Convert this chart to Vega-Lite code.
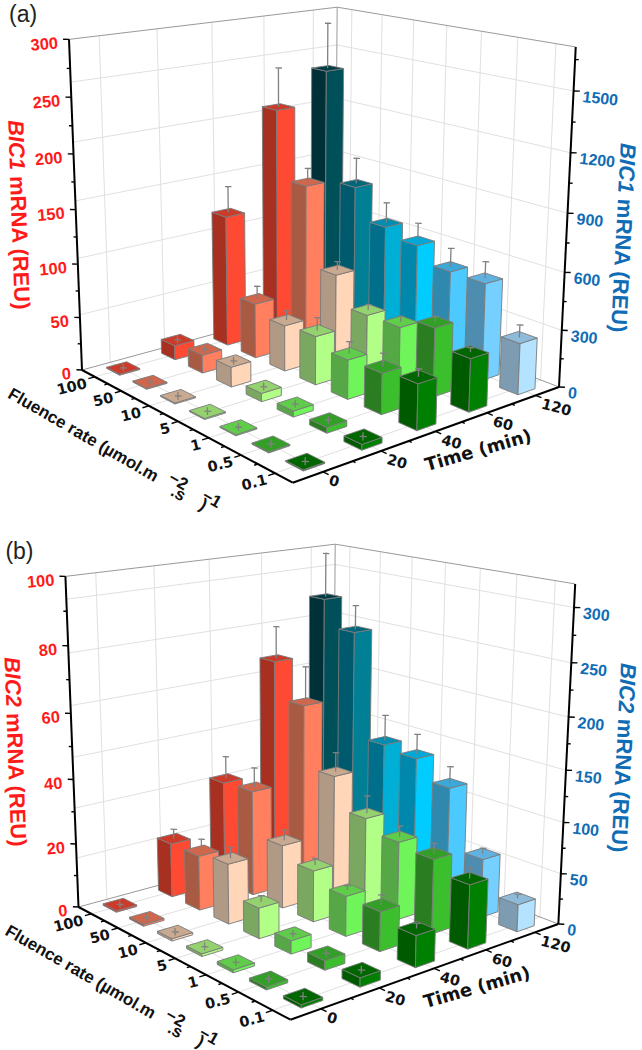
{"$schema":"https://vega.github.io/schema/vega-lite/v6.json","width":642,"height":1050,"padding":0,"autosize":{"type":"none"},"background":"white","config":{"view":{"stroke":null}},
"datasets":{
"lines":[
{"g":"grid","k":"zL","panel":["a"],"v":[300,600,900,1200,1500],"max":1710},
{"g":"grid","k":"zR","panel":["a"],"v":[300,600,900,1200,1500],"max":1710},
{"g":"grid","k":"zL","panel":["b"],"v":[50,100,150,200,250,300],"max":321},
{"g":"grid","k":"zR","panel":["b"],"v":[50,100,150,200,250,300],"max":321},
{"g":"grid","k":"tW","panel":["a","b"],"v":[0.5,1.5,2.5,3.5,4.5],"max":5},
{"g":"grid","k":"tF","panel":["a","b"],"v":[0.5,1.5,2.5,3.5,4.5],"max":5},
{"g":"grid","k":"fW","panel":["a","b"],"v":[0.5,1.5,2.5,3.5,4.5,5.5,6.5],"max":7},
{"g":"grid","k":"fF","panel":["a","b"],"v":[0.5,1.5,2.5,3.5,4.5,5.5,6.5],"max":7},
{"g":"frame","k":"zL","panel":["a","b"],"v":[0,1],"max":1},
{"g":"frame","k":"zR","panel":["a","b"],"v":[0,1],"max":1},
{"g":"frame","k":"tW","panel":["a","b"],"v":[1],"max":1},
{"g":"axis","k":"tW","panel":["a","b"],"v":[0],"max":1},
{"g":"axis","k":"fW","panel":["a","b"],"v":[1],"max":1},
{"g":"axis","k":"tF","panel":["a","b"],"v":[0],"max":1},
{"g":"axis","k":"fF","panel":["a","b"],"v":[1],"max":1},
{"g":"tick","k":"zLt","panel":["a"],"v":[0,50,100,150,200,250,300],"max":300,"d":0.012},
{"g":"tick","k":"zLt","panel":["a"],"v":[25,75,125,175,225,275],"max":300,"d":0.007},
{"g":"tick","k":"zLt","panel":["b"],"v":[0,20,40,60,80,100],"max":100,"d":0.012},
{"g":"tick","k":"zLt","panel":["b"],"v":[10,30,50,70,90],"max":100,"d":0.007},
{"g":"tick","k":"zRt","panel":["a"],"v":[0,300,600,900,1200,1500],"max":1710,"d":0.012},
{"g":"tick","k":"zRt","panel":["a"],"v":[150,450,750,1050,1350,1650],"max":1710,"d":0.007},
{"g":"tick","k":"zRt","panel":["b"],"v":[0,50,100,150,200,250,300],"max":321,"d":0.012},
{"g":"tick","k":"zRt","panel":["b"],"v":[25,75,125,175,225,275],"max":321,"d":0.007},
{"g":"tick","k":"fA","panel":["a","b"],"v":[0.5,1.5,2.5,3.5,4.5,5.5,6.5],"max":7,"d":0.022},
{"g":"tick","k":"fA","panel":["a","b"],"v":[1,2,3,4,5,6],"max":7,"d":0.012},
{"g":"tick","k":"tA","panel":["a","b"],"v":[0.5,1.5,2.5,3.5,4.5],"max":5,"d":0.022},
{"g":"tick","k":"tA","panel":["a","b"],"v":[1,2,3,4],"max":5,"d":0.012}
],
"labels":[
{"g":"zl","panel":["a"],"v":[0,50,100,150,200,250,300],"max":300},
{"g":"zl","panel":["b"],"v":[0,20,40,60,80,100],"max":100},
{"g":"zr","panel":["a"],"v":[0,300,600,900,1200,1500],"max":1710},
{"g":"zr","panel":["b"],"v":[0,50,100,150,200,250,300],"max":321},
{"g":"f","panel":["a","b"],"v":[100,50,10,5,1,0.5,0.1]},
{"g":"t","panel":["a","b"],"v":[0,20,40,60,120]},
{"g":"tl","panel":["a"],"v":["BIC1"],"a":0.5},
{"g":"tl","panel":["b"],"v":["BIC2"],"a":0.5},
{"g":"tl2","panel":["a","b"],"v":["mRNA (REU)"],"a":0.5},
{"g":"tr","panel":["a"],"v":["BIC1"],"a":0.5},
{"g":"tr","panel":["b"],"v":["BIC2"],"a":0.55},
{"g":"tr2","panel":["a"],"v":["mRNA (REU)"],"a":0.5},
{"g":"tr2","panel":["b"],"v":["mRNA (REU)"],"a":0.55},
{"g":"ft","panel":["a","b"],"v":["Fluence rate (µmol.m","−2",".s","−1",")"]},
{"g":"tt","panel":["a","b"],"v":["Time (min)"]},
{"g":"p","panel":["a"],"v":["(a)"]},
{"g":"p","panel":["b"],"v":["(b)"]}
],
"bars":[
{"panel":"a","fluence":100,"time":120,"value":1406,"err":246},
{"panel":"a","fluence":50,"time":120,"value":808,"err":140},
{"panel":"a","fluence":10,"time":120,"value":640,"err":110},
{"panel":"a","fluence":5,"time":120,"value":596,"err":95},
{"panel":"a","fluence":1,"time":120,"value":514,"err":98},
{"panel":"a","fluence":0.5,"time":120,"value":513,"err":87},
{"panel":"a","fluence":0.1,"time":120,"value":268,"err":65},
{"panel":"a","fluence":100,"time":60,"value":217,"err":37},
{"panel":"a","fluence":50,"time":60,"value":153,"err":13},
{"panel":"a","fluence":10,"time":60,"value":78,"err":8},
{"panel":"a","fluence":5,"time":60,"value":51,"err":5},
{"panel":"a","fluence":1,"time":60,"value":51.5,"err":5},
{"panel":"a","fluence":0.5,"time":60,"value":63,"err":5},
{"panel":"a","fluence":0.1,"time":60,"value":48,"err":4},
{"panel":"a","fluence":100,"time":40,"value":125,"err":25},
{"panel":"a","fluence":50,"time":40,"value":52,"err":12},
{"panel":"a","fluence":10,"time":40,"value":43,"err":9},
{"panel":"a","fluence":5,"time":40,"value":45,"err":12},
{"panel":"a","fluence":1,"time":40,"value":36,"err":11},
{"panel":"a","fluence":0.5,"time":40,"value":37,"err":12},
{"panel":"a","fluence":0.1,"time":40,"value":41,"err":7},
{"panel":"a","fluence":100,"time":20,"value":13.6,"err":0},
{"panel":"a","fluence":50,"time":20,"value":17,"err":0},
{"panel":"a","fluence":10,"time":20,"value":18.5,"err":0},
{"panel":"a","fluence":5,"time":20,"value":7.6,"err":0},
{"panel":"a","fluence":1,"time":20,"value":5.4,"err":0},
{"panel":"a","fluence":0.5,"time":20,"value":5,"err":0},
{"panel":"a","fluence":0.1,"time":20,"value":5,"err":0},
{"panel":"a","fluence":100,"time":0,"value":1,"err":0},
{"panel":"a","fluence":50,"time":0,"value":1,"err":0},
{"panel":"a","fluence":10,"time":0,"value":1,"err":0},
{"panel":"a","fluence":5,"time":0,"value":1,"err":0},
{"panel":"a","fluence":1,"time":0,"value":1,"err":0},
{"panel":"a","fluence":0.5,"time":0,"value":1,"err":0},
{"panel":"a","fluence":0.1,"time":0,"value":1,"err":0},
{"panel":"b","fluence":100,"time":120,"value":273,"err":44},
{"panel":"b","fluence":50,"time":120,"value":246,"err":24},
{"panel":"b","fluence":10,"time":120,"value":140,"err":26},
{"panel":"b","fluence":5,"time":120,"value":136,"err":20},
{"panel":"b","fluence":1,"time":120,"value":117,"err":16.5},
{"panel":"b","fluence":0.5,"time":120,"value":58,"err":5.5},
{"panel":"b","fluence":0.1,"time":120,"value":26.7,"err":4},
{"panel":"b","fluence":100,"time":60,"value":67.8,"err":10},
{"panel":"b","fluence":50,"time":60,"value":56.5,"err":11},
{"panel":"b","fluence":10,"time":60,"value":37.3,"err":6},
{"panel":"b","fluence":5,"time":60,"value":27.6,"err":5.4},
{"panel":"b","fluence":1,"time":60,"value":24,"err":3.3},
{"panel":"b","fluence":0.5,"time":60,"value":22.7,"err":3},
{"panel":"b","fluence":0.1,"time":60,"value":19.2,"err":3},
{"panel":"b","fluence":100,"time":40,"value":32.4,"err":7},
{"panel":"b","fluence":50,"time":40,"value":33,"err":6},
{"panel":"b","fluence":10,"time":40,"value":19.7,"err":3.2},
{"panel":"b","fluence":5,"time":40,"value":15.8,"err":2},
{"panel":"b","fluence":1,"time":40,"value":12.2,"err":1.3},
{"panel":"b","fluence":0.5,"time":40,"value":11.9,"err":3},
{"panel":"b","fluence":0.1,"time":40,"value":9.4,"err":1.5},
{"panel":"b","fluence":100,"time":20,"value":17,"err":3},
{"panel":"b","fluence":50,"time":20,"value":17,"err":3.6},
{"panel":"b","fluence":10,"time":20,"value":18.5,"err":3.4},
{"panel":"b","fluence":5,"time":20,"value":9.3,"err":1.8},
{"panel":"b","fluence":1,"time":20,"value":4,"err":0},
{"panel":"b","fluence":0.5,"time":20,"value":2.8,"err":0},
{"panel":"b","fluence":0.1,"time":20,"value":2.7,"err":0},
{"panel":"b","fluence":100,"time":0,"value":0.5,"err":0},
{"panel":"b","fluence":50,"time":0,"value":0.6,"err":0},
{"panel":"b","fluence":10,"time":0,"value":0.7,"err":0},
{"panel":"b","fluence":5,"time":0,"value":0.8,"err":0},
{"panel":"b","fluence":1,"time":0,"value":0.9,"err":0},
{"panel":"b","fluence":0.5,"time":0,"value":0.9,"err":0},
{"panel":"b","fluence":0.1,"time":0,"value":0.9,"err":0}
]},
"encoding":{
"x":{"field":"X","type":"quantitative","scale":{"domain":[0,642],"nice":false,"zero":false},"axis":null},
"y":{"field":"Y","type":"quantitative","scale":{"domain":[1050,0],"nice":false,"zero":false},"axis":null}},
"layer":[
{"data":{"name":"lines"},
"transform":[{"flatten":["panel"]},{"flatten":["v"]},{"calculate":"datum.v/datum.max","as":"at"},{"calculate":"[0,1]","as":"e"},{"flatten":["e"]},
{"calculate":"datum.k=='zR'||datum.k=='tF'?datum.e:datum.k=='fW'||datum.k=='fF'||datum.k=='fA'?datum.at:datum.k=='zLt'?-datum.e*datum.d:datum.k=='zRt'||datum.k=='tA'?1+datum.e*datum.d:0","as":"S"},
{"calculate":"datum.k=='zL'||datum.k=='fF'?datum.e:datum.k=='tW'||datum.k=='tF'||datum.k=='tA'?datum.at:datum.k=='zR'||datum.k=='fW'?1:datum.k=='zRt'?1+datum.e*datum.d:-datum.e*datum.d","as":"T"},
{"calculate":"datum.k=='zL'||datum.k=='zR'||datum.k=='zLt'||datum.k=='zRt'?datum.at:datum.k=='tW'||datum.k=='fW'?datum.e:0","as":"W"},
{"calculate":"1-0.16069*datum.S+0.13165*datum.T-0.0577*datum.W","as":"D"},
{"calculate":"(82+163.67*datum.S+297.1*datum.T-16.98*datum.W)/datum.D*(datum.panel=='b'?1.006:1)-(datum.panel=='b'?4:0)","as":"X"},
{"calculate":"(370+35.13*datum.S-29.37*datum.T-332.9*datum.W)/datum.D+(datum.panel=='b'?537:0)","as":"Y"},
{"calculate":"datum.panel+datum.g+datum.k+datum.v+'_'+datum.d","as":"id"}],
"encoding":{"detail":{"field":"id","type":"nominal"},"order":{"field":"e","type":"quantitative"}},
"layer":[
{"transform":[{"filter":"datum.g=='grid'"}],"mark":{"type":"line","stroke":"#e0e0e0","strokeWidth":1}},
{"transform":[{"filter":"datum.g=='frame'"}],"mark":{"type":"line","stroke":"#999999","strokeWidth":1}},
{"transform":[{"filter":"datum.g=='axis'"}],"mark":{"type":"line","stroke":"#000000","strokeWidth":2}},
{"transform":[{"filter":"datum.g=='tick'"}],"mark":{"type":"line","stroke":"#000000","strokeWidth":1.4}}
]},
{"data":{"name":"bars"},
"transform":[
{"calculate":"indexof([100,50,10,5,1,0.5,0.1],datum.fluence)","as":"i"},
{"calculate":"indexof([0,20,40,60,120],datum.time)","as":"j"},
{"calculate":"(datum.i+0.5)/7","as":"s0"},{"calculate":"(datum.j+0.5)/5","as":"t0"},
{"calculate":"datum.time==120?(datum.panel=='a'?1710:321):(datum.panel=='a'?300:100)","as":"m"},
{"calculate":"datum.value/datum.m","as":"w"},{"calculate":"datum.err/datum.m","as":"h"},
{"calculate":"datum.err==0?0.011:0","as":"p"},
{"calculate":"['L','R','T','E']","as":"face"},{"flatten":["face"]},
{"calculate":"[0,1,2,3,4,5]","as":"c"},{"flatten":["c"]},
{"calculate":"datum.c==1||datum.c==2?1:-1","as":"cs"},
{"calculate":"datum.face=='L'||datum.face=='T'?datum.s0+datum.cs*0.036:datum.face=='R'?datum.s0+0.036:datum.s0+(datum.c==0?-0.0065:datum.c==1?0.0065:0)","as":"S"},
{"calculate":"datum.face=='L'?datum.t0-0.036:datum.face=='R'?datum.t0+datum.cs*0.036:datum.face=='T'?datum.t0+(datum.c==2||datum.c==3?0.036:-0.036):datum.t0+(datum.c==0?-0.0065:datum.c==1?0.0065:0)","as":"T"},
{"calculate":"datum.face=='T'?datum.w:datum.face=='E'?(datum.c<=2?datum.w+datum.h:datum.c==3?datum.w+datum.h+datum.p:datum.w-datum.p):(datum.c==2||datum.c==3?datum.w:0)","as":"W"},
{"calculate":"1-0.16069*datum.S+0.13165*datum.T-0.0577*datum.W","as":"D"},
{"calculate":"(82+163.67*datum.S+297.1*datum.T-16.98*datum.W)/datum.D*(datum.panel=='b'?1.006:1)-(datum.panel=='b'?4:0)","as":"X"},
{"calculate":"(370+35.13*datum.S-29.37*datum.T-332.9*datum.W)/datum.D+(datum.panel=='b'?537:0)","as":"Y"},
{"calculate":"datum.face=='E'?'E':(datum.time==120?'b':'r')+datum.fluence+datum.face","as":"key"},
{"calculate":"datum.face=='E'?'E':'B'","as":"edge"},
{"calculate":"datum.panel+'_'+datum.time+'_'+datum.fluence+'_'+datum.face","as":"id"}],
"mark":{"type":"line","strokeJoin":"round"},
"encoding":{
"detail":{"field":"id","type":"nominal"},
"order":{"field":"c","type":"quantitative"},
"strokeWidth":{"field":"edge","type":"nominal","legend":null,"scale":{"domain":["B","E"],"range":[0.9,1.3]}},
"stroke":{"field":"edge","type":"nominal","legend":null,"scale":{"domain":["B","E"],"range":["#7a7a7a","#808080"]}},
"fill":{"field":"key","type":"nominal","legend":null,"scale":{
"domain":["E","r100L","r100R","r100T","r50L","r50R","r50T","r10L","r10R","r10T","r5L","r5R","r5T","r1L","r1R","r1T","r0.5L","r0.5R","r0.5T","r0.1L","r0.1R","r0.1T","b100L","b100R","b100T","b50L","b50R","b50T","b10L","b10R","b10T","b5L","b5R","b5T","b1L","b1R","b1T","b0.5L","b0.5R","b0.5T","b0.1L","b0.1R","b0.1T"],
"range":["transparent","#a83020","#ff4a33","#cc3a2a","#a85a42","#ff7f5e","#d0674c","#b09a85","#ffd7b8","#c9aa90","#7aa860","#b2ff88","#93d26e","#55a845","#6ff55a","#5fcc4a","#2a7d20","#3cbf2d","#32a026","#005a00","#008000","#006600","#003038","#00505a","#003c46","#005a6e","#007f95","#00677a","#006f8c","#00afd6","#008db0","#0088ac","#00ccff","#00a8d8","#2f88ae","#4cc9ff","#3aa8d8","#4f8db0","#75cfff","#5fb2e0","#7d9cb2","#b3e3ff","#8ebbd9"]}}}},
{"data":{"name":"labels"},
"transform":[{"flatten":["panel"]},{"flatten":["v"]},
{"calculate":"datum.g=='f'?(indexof([100,50,10,5,1,0.5,0.1],datum.v)+0.5)/7:datum.g=='ft'?0.5:(datum.g=='t'||datum.g=='tt'||datum.g=='zr'||datum.g=='tr'||datum.g=='tr2')?1:0","as":"S"},
{"calculate":"datum.g=='t'?(indexof([0,20,40,60,120],datum.v)+0.5)/5:datum.g=='tt'?0.5:(datum.g=='zr'||datum.g=='tr'||datum.g=='tr2')?1:0","as":"T"},
{"calculate":"datum.g=='zl'||datum.g=='zr'?datum.v/datum.max:datum.g=='p'?1:(datum.a||0)","as":"W"},
{"calculate":"1-0.16069*datum.S+0.13165*datum.T-0.0577*datum.W","as":"D"},
{"calculate":"(82+163.67*datum.S+297.1*datum.T-16.98*datum.W)/datum.D*(datum.panel=='b'?1.006:1)-(datum.panel=='b'?4:0)","as":"X"},
{"calculate":"(370+35.13*datum.S-29.37*datum.T-332.9*datum.W)/datum.D+(datum.panel=='b'?537:0)","as":"Y"},
{"calculate":"''+datum.v","as":"label"}],
"encoding":{"text":{"field":"label","type":"nominal"}},
"layer":[
{"transform":[{"filter":"datum.g=='zl'"}],"mark":{"type":"text","font":"Liberation Sans","fontWeight":"bold","fontSize":16.5,"fill":"#ff1a1a","align":"right","baseline":"middle","angle":355,"dx":-11.3,"dy":3}},
{"transform":[{"filter":"datum.g=='zr'"}],"mark":{"type":"text","font":"Liberation Sans","fontWeight":"bold","fontSize":16,"fill":"#0f6cb5","align":"left","baseline":"middle","angle":6,"dx":9.6,"dy":5}},
{"transform":[{"filter":"datum.g=='f'"}],"mark":{"type":"text","font":"DejaVu Sans","fontWeight":"bold","fontSize":14.5,"fill":"#111111","align":"right","baseline":"middle","angle":346,"dx":-9.5,"dy":4.9}},
{"transform":[{"filter":"datum.g=='t'"}],"mark":{"type":"text","font":"DejaVu Sans","fontWeight":"bold","fontSize":14.5,"fill":"#111111","align":"left","baseline":"middle","angle":15,"dx":8.1,"dy":7.1}},
{"transform":[{"filter":"datum.g=='tl'"}],"mark":{"type":"text","font":"Liberation Sans","fontWeight":"bold","fontStyle":"italic","fontSize":22,"fill":"#ff1a1a","align":"left","baseline":"middle","angle":88,"dx":-91.7,"dy":57.4}},
{"transform":[{"filter":"datum.g=='tl2'"}],"mark":{"type":"text","font":"Liberation Sans","fontWeight":"bold","fontSize":22,"fill":"#ff1a1a","align":"left","baseline":"middle","angle":88,"dx":-35.6,"dy":57.4}},
{"transform":[{"filter":"datum.g=='tr'"}],"mark":{"type":"text","font":"Liberation Sans","fontWeight":"bold","fontStyle":"italic","fontSize":22,"fill":"#0f6cb5","align":"left","baseline":"middle","angle":93,"dx":-82.2,"dy":-56.5}},
{"transform":[{"filter":"datum.g=='tr2'"}],"mark":{"type":"text","font":"Liberation Sans","fontWeight":"bold","fontSize":22,"fill":"#0f6cb5","align":"left","baseline":"middle","angle":93,"dx":-26.2,"dy":-56.5}},
{"transform":[{"filter":"datum.g=='tt'"}],"mark":{"type":"text","font":"DejaVu Sans","fontWeight":"bold","fontSize":18,"fill":"#111111","align":"center","baseline":"middle","angle":344,"dx":35.8,"dy":31.1}},
{"transform":[{"filter":"datum.g=='ft'&&datum.v=='Fluence rate (µmol.m'"}],"mark":{"type":"text","font":"Liberation Sans","fontWeight":"bold","fontSize":17,"fill":"#111111","align":"center","baseline":"middle","angle":30,"dx":-75.3,"dy":59.6}},
{"transform":[{"filter":"datum.g=='ft'&&datum.v=='−2'"}],"mark":{"type":"text","font":"Liberation Sans","fontWeight":"bold","fontSize":17,"fill":"#111111","align":"center","baseline":"middle","angle":30,"dx":30,"dy":52}},
{"transform":[{"filter":"datum.g=='ft'&&datum.v=='.s'"}],"mark":{"type":"text","font":"Liberation Sans","fontWeight":"bold","fontSize":17,"fill":"#111111","align":"center","baseline":"middle","angle":30,"dx":36.2,"dy":62.8}},
{"transform":[{"filter":"datum.g=='ft'&&datum.v=='−1'"}],"mark":{"type":"text","font":"Liberation Sans","fontWeight":"bold","fontSize":17,"fill":"#111111","align":"center","baseline":"middle","angle":30,"dx":68,"dy":50.8}},
{"transform":[{"filter":"datum.g=='ft'&&datum.v==')'"}],"mark":{"type":"text","font":"Liberation Sans","fontWeight":"bold","fontSize":17,"fill":"#111111","align":"center","baseline":"middle","angle":30,"dx":63.5,"dy":59.9}},
{"transform":[{"filter":"datum.g=='p'"}],"mark":{"type":"text","font":"Liberation Sans","fontSize":23,"fill":"#222222","align":"left","baseline":"middle","angle":0,"dx":-60,"dy":-24}}
]}
]}
